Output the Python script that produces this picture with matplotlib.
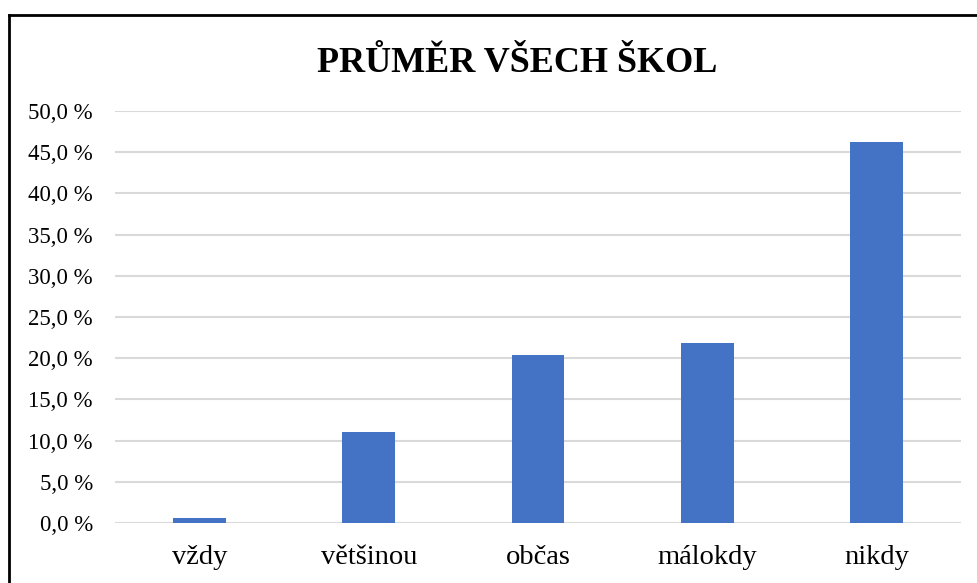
import matplotlib
matplotlib.use("Agg")
import matplotlib.pyplot as plt
from matplotlib.lines import Line2D
from matplotlib.ticker import FuncFormatter

plt.rcParams['font.family'] = ['Liberation Serif', 'DejaVu Serif']

# data
categories = ['vždy', 'většinou', 'občas', 'málokdy', 'nikdy']
values = [0.6, 11.1, 20.4, 21.8, 46.2]
y_ticks = [0, 5, 10, 15, 20, 25, 30, 35, 40, 45, 50]

fig = plt.figure(figsize=(9.77, 5.83), dpi=100)
ax = fig.add_axes([115 / 977, 1 - 523 / 583, 846 / 977, 412 / 583])

x = range(len(categories))
ax.bar(x, values, width=0.313, color='#4472C4', zorder=3)

ax.set_xlim(-0.5, len(categories) - 0.5)
ax.set_ylim(0, 50)
ax.set_yticks(y_ticks)
ax.yaxis.set_major_formatter(FuncFormatter(lambda v, p: f'{v:.1f} %'.replace('.', ',')))
ax.set_xticks(list(x))
ax.set_xticklabels(categories)

ax.grid(axis='y', color='#D9D9D9', linewidth=1.5, zorder=0)
ax.tick_params(axis='y', length=0, pad=16, labelsize=16.5)
ax.tick_params(axis='x', length=0, pad=16, labelsize=20.5)
for s in ax.spines.values():
    s.set_visible(False)

fig.text(517 / 977, 1 - 63 / 583, 'PRŮMĚR VŠECH ŠKOL', ha='center', va='center',
         fontsize=26, fontweight='bold')

# chart border (only left and top visible in the crop)
fig.add_artist(Line2D([9 / 977, 9 / 977], [0, 1 - 15 / 583], color='black', linewidth=2))
fig.add_artist(Line2D([9 / 977, 1], [1 - 15 / 583, 1 - 15 / 583], color='black', linewidth=2))

fig.savefig('out.png', dpi=100)
